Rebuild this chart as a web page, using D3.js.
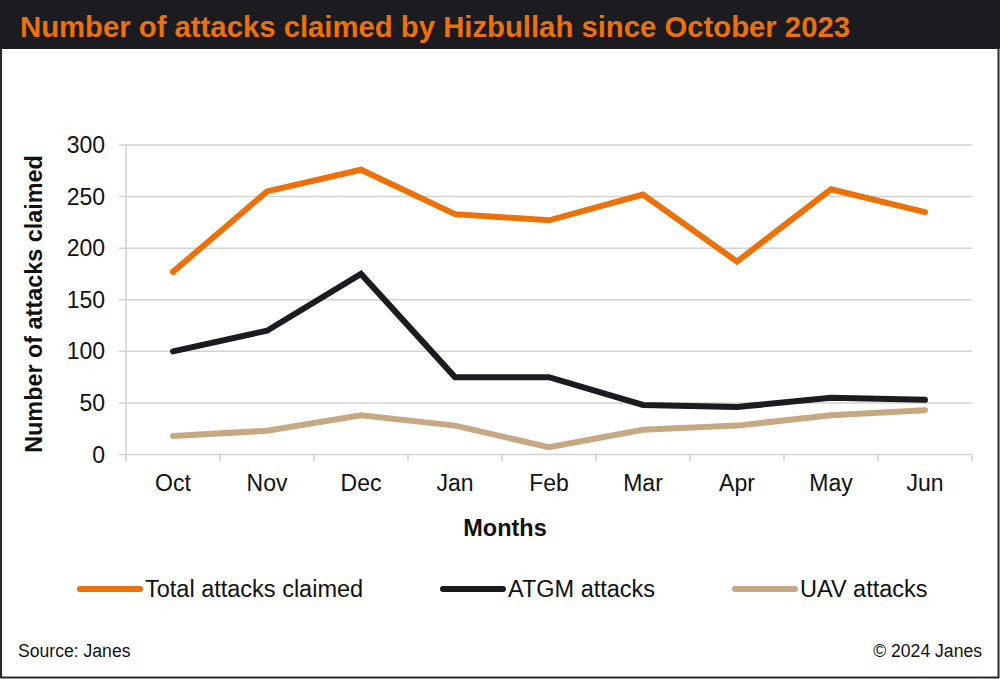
<!DOCTYPE html>
<html lang="en">
  <head>
    <meta charset="UTF-8" />
    <title>Number of attacks claimed by Hizbullah since October 2023</title>
    <script src="https://d3js.org/d3.v7.min.js"></script>
    <style>
      body {
        margin: 0;
        background: #fff;
      }
      svg {
        display: block;
        font-family: "Liberation Sans", Arial, sans-serif;
      }
    </style>
  </head>
  <body>
    <script>
      // Data
      const months = ["Oct", "Nov", "Dec", "Jan", "Feb", "Mar", "Apr", "May", "Jun"];
      const totalAttacks = [177, 255, 276, 233, 227, 252, 187, 257, 235];
      const atgmAttacks = [100, 120, 175, 75, 75, 48, 46, 55, 53];
      const uavAttacks = [18, 23, 38, 28, 7, 24, 28, 38, 43];
      const yTicks = [0, 50, 100, 150, 200, 250, 300];

      const series = [
        { name: "Total attacks claimed", values: totalAttacks, color: "#ec7109" },
        { name: "ATGM attacks", values: atgmAttacks, color: "#1b1b20" },
        { name: "UAV attacks", values: uavAttacks, color: "#c8a882" },
      ];

      const W = 1000;
      const H = 679;
      const plot = { left: 126, right: 972, top: 145, bottom: 454.5 };

      const svg = d3.select("body").append("svg").attr("width", W).attr("height", H);

      // frame + title bar
      svg.append("rect").attr("x", 1).attr("y", 1).attr("width", W - 2.5).attr("height", H - 2.5)
        .attr("fill", "#fff").attr("stroke", "#2a2a2a").attr("stroke-width", 2);
      svg.append("rect").attr("x", 0).attr("y", 0).attr("width", W).attr("height", 49).attr("fill", "#1c1b20");

      svg.append("text")
        .attr("x", 20)
        .attr("y", 37)
        .attr("fill", "#ec7109")
        .style("font-size", "30px")
        .style("font-weight", "bold")
        .attr("textLength", 830)
        .attr("lengthAdjust", "spacingAndGlyphs")
        .text("Number of attacks claimed by Hizbullah since October 2023");

      const x = d3.scaleBand().domain(months).range([plot.left, plot.right]);
      const y = d3.scaleLinear().domain([0, 300]).range([plot.bottom, plot.top]);

      // gridlines
      svg.append("g")
        .selectAll("line")
        .data(yTicks)
        .join("line")
        .attr("x1", plot.left - 7)
        .attr("x2", plot.right)
        .attr("y1", (d) => y(d))
        .attr("y2", (d) => y(d))
        .attr("stroke", "#d2d2d2")
        .attr("stroke-width", 1.5);

      // y axis line
      svg.append("line")
        .attr("x1", plot.left).attr("x2", plot.left)
        .attr("y1", plot.top).attr("y2", plot.bottom + 7)
        .attr("stroke", "#d2d2d2").attr("stroke-width", 1.5);

      // x axis ticks (category boundaries)
      const bounds = months.map((m) => x(m)).concat([plot.right]);
      svg.append("g")
        .selectAll("line")
        .data(bounds)
        .join("line")
        .attr("x1", (d) => d).attr("x2", (d) => d)
        .attr("y1", plot.bottom).attr("y2", plot.bottom + 7)
        .attr("stroke", "#d2d2d2").attr("stroke-width", 1.5);

      // y tick labels
      svg.append("g")
        .selectAll("text")
        .data(yTicks)
        .join("text")
        .attr("x", 105)
        .attr("y", (d) => y(d) + 8)
        .attr("text-anchor", "end")
        .attr("fill", "#111")
        .style("font-size", "23px")
        .text((d) => d);

      // x labels
      svg.append("g")
        .selectAll("text")
        .data(months)
        .join("text")
        .attr("x", (d) => x(d) + x.bandwidth() / 2)
        .attr("y", 491)
        .attr("text-anchor", "middle")
        .attr("fill", "#111")
        .style("font-size", "23px")
        .text((d) => d);

      // axis titles
      svg.append("text")
        .attr("x", 505).attr("y", 536)
        .attr("text-anchor", "middle")
        .attr("fill", "#111")
        .style("font-size", "23.5px").style("font-weight", "bold")
        .text("Months");

      svg.append("text")
        .attr("transform", "translate(42,304) rotate(-90)")
        .attr("text-anchor", "middle")
        .attr("fill", "#111")
        .style("font-size", "23.4px").style("font-weight", "bold")
        .text("Number of attacks claimed");

      // lines
      const line = d3.line()
        .x((d, i) => x(months[i]) + x.bandwidth() / 2)
        .y((d) => y(d));

      svg.append("g")
        .selectAll("path")
        .data(series.slice().reverse())
        .join("path")
        .attr("d", (d) => line(d.values))
        .attr("fill", "none")
        .attr("stroke", (d) => d.color)
        .attr("stroke-width", 6)
        .attr("stroke-linejoin", "miter")
        .attr("stroke-linecap", "round");

      // legend
      const legendX = [80, 443, 735];
      const lg = svg.append("g")
        .selectAll("g")
        .data(series)
        .join("g")
        .attr("transform", (d, i) => `translate(${legendX[i]},589)`);
      lg.append("line")
        .attr("x1", 0).attr("x2", 60)
        .attr("stroke", (d) => d.color)
        .attr("stroke-width", 6)
        .attr("stroke-linecap", "round");
      lg.append("text")
        .attr("x", 65).attr("y", 8)
        .attr("fill", "#111")
        .style("font-size", "23.5px")
        .text((d) => d.name);

      // footer
      svg.append("text")
        .attr("x", 18).attr("y", 657)
        .attr("fill", "#111")
        .style("font-size", "17.6px")
        .text("Source: Janes");
      svg.append("text")
        .attr("x", 982).attr("y", 657)
        .attr("text-anchor", "end")
        .attr("fill", "#111")
        .style("font-size", "17.6px")
        .text("© 2024 Janes");
    </script>
  </body>
</html>
